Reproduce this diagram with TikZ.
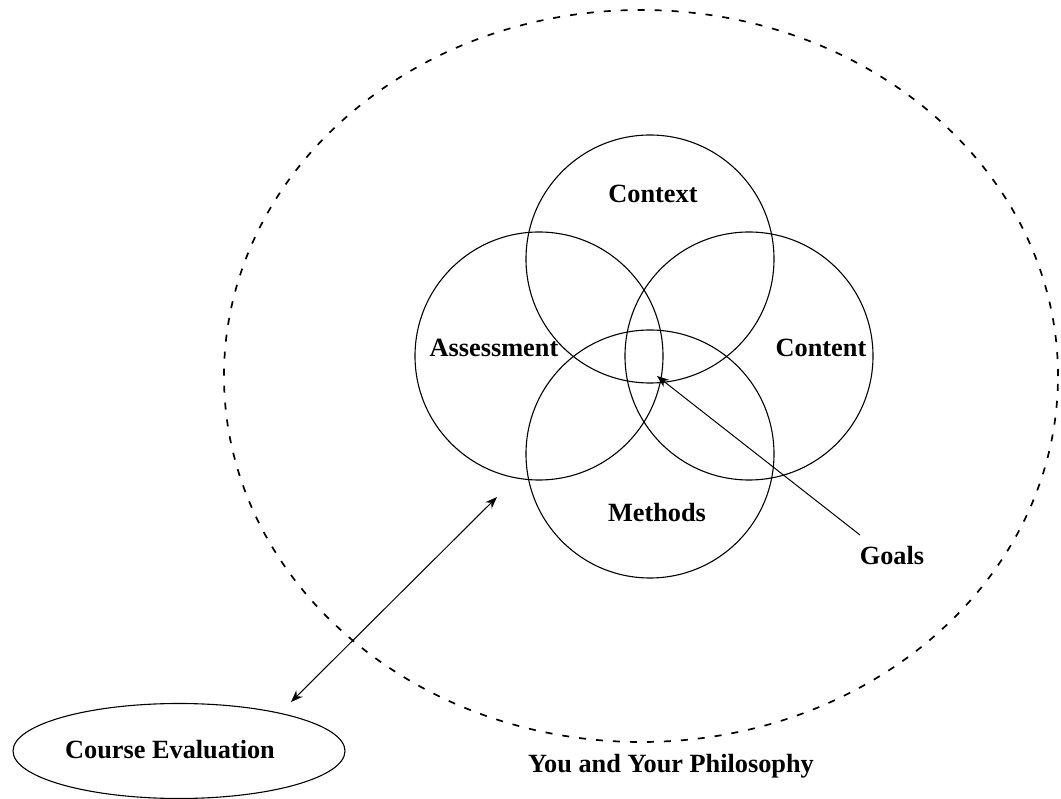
\documentclass[tikz,border=0pt]{standalone}
\usepackage{fontspec}
\setmainfont{Liberation Serif}
\usetikzlibrary{arrows.meta,shapes.geometric}
\begin{document}
\begin{tikzpicture}[x=1pt,y=-1pt,
  ring/.style={draw,circle,minimum size=248pt,inner sep=0pt,line width=1.1pt},
  lbl/.style={font=\fontsize{26.3}{30}\selectfont\bfseries,inner sep=0pt},
  outer/.style={draw,ellipse,line width=1.7pt,dash pattern=on 7pt off 10pt,inner sep=0pt},
  conn/.style={line width=1pt,-{Stealth[length=12pt,width=9pt]}}]
  \useasboundingbox (0,0) rectangle (1061,799);
  \fill[white] (0,0) rectangle (1061,799);

  % surrounding philosophy boundary
  \node[outer,minimum width=834pt,minimum height=732pt] (phil) at (641,376) {};
  \node[lbl] (philtxt) at (671,766) {You and Your Philosophy};

  % the four overlapping areas
  \node[ring] (context) at (650,259) {};
  \node[ring] (assess) at (539,356) {};
  \node[ring] (content) at (749,356) {};
  \node[ring] (methods) at (650,454) {};

  \node[lbl] (contexttxt) at (653,194) {Context};
  \node[lbl] (assesstxt) at (494,348) {Assessment};
  \node[lbl] (contenttxt) at (821,348) {Content};
  \node[lbl] (methodstxt) at (657,513) {Methods};

  % goals pointer into the shared centre
  \node[lbl] (goals) at (892,556) {Goals};
  \coordinate (goalstail) at (860,535);
  \coordinate (goalpt) at (657,376);
  \draw[conn] (goalstail) -- (goalpt);

  % course evaluation and its two-way link
  \node[draw,ellipse,line width=1.1pt,minimum width=332pt,minimum height=95pt,inner sep=0pt] (eval) at (179,751) {};
  \node[lbl] (evaltxt) at (170,750) {Course Evaluation};
  \coordinate (evalend) at (291,702);
  \coordinate (philend) at (497,497);
  \draw[conn,{Stealth[length=12pt,width=9pt]}-{Stealth[length=12pt,width=9pt]}] (evalend) -- (philend);
\end{tikzpicture}
\end{document}
